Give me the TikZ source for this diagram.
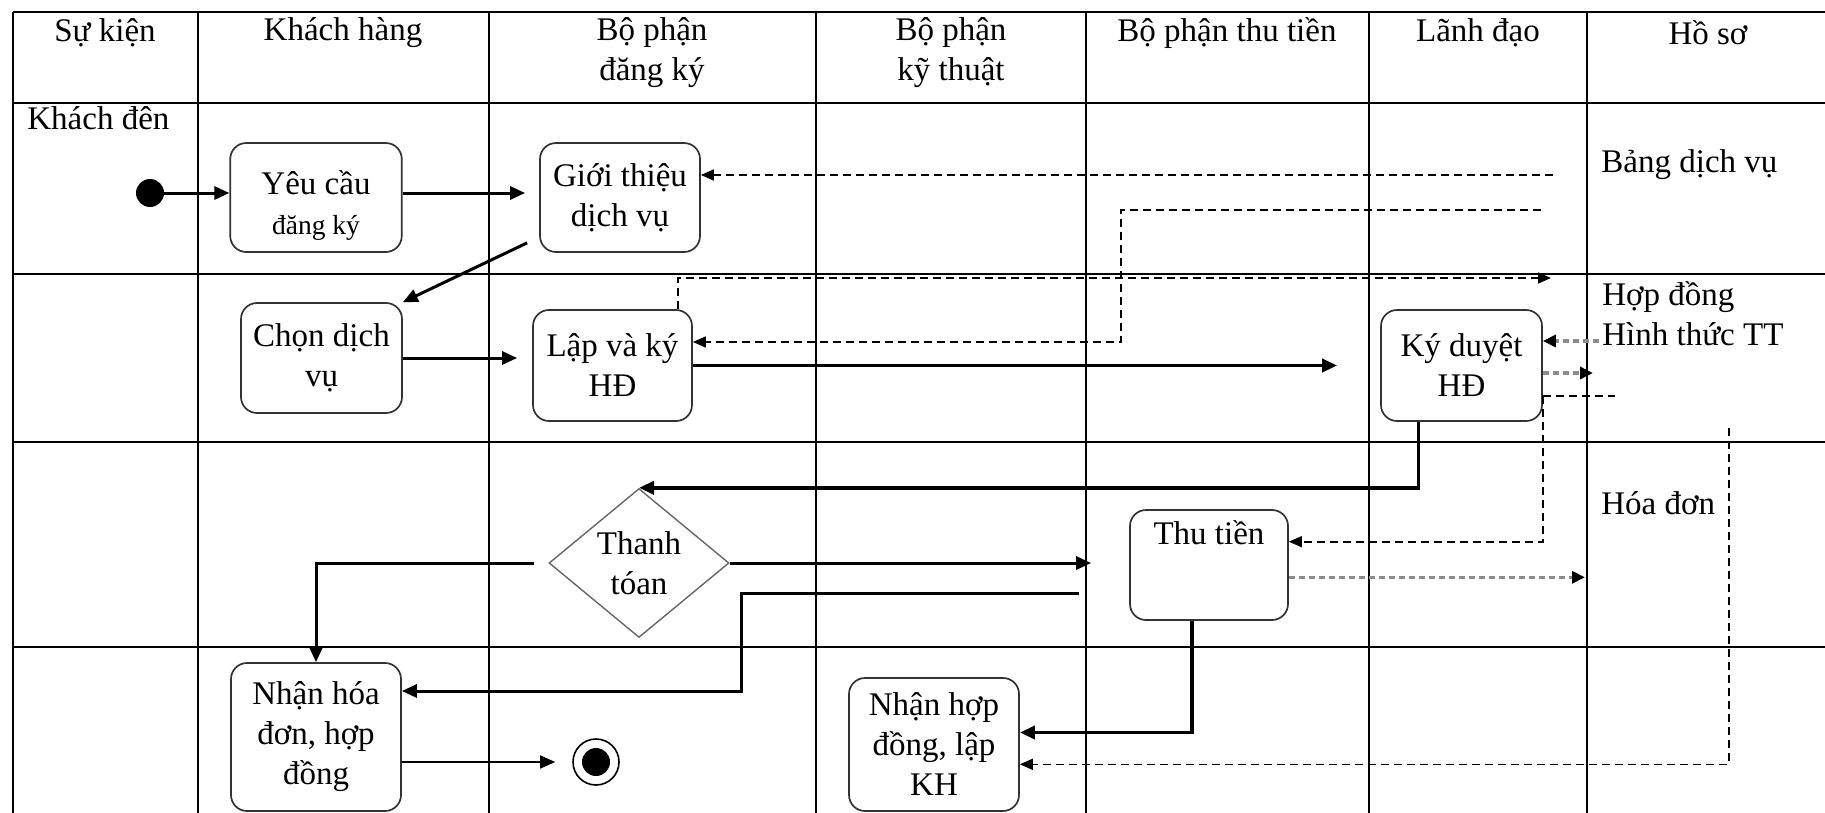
\documentclass[tikz,border=0pt]{standalone}
\usepackage{fontspec}
\setmainfont{Liberation Serif}
\usetikzlibrary{arrows.meta,shapes.geometric}
\begin{document}
\begin{tikzpicture}[x=0.5pt,y=-0.5pt,
  font=\fontsize{16.5}{20}\selectfont,
  grid/.style={line width=0.85pt},
  box/.style={draw=black!80, fill=white, line width=0.85pt, rounded corners=8pt, align=center, inner sep=2pt},
  tip/.style={-{Triangle[length=7.5pt,width=6.5pt]}},
  marr/.style={tip, line width=1.5pt},
  tarr/.style={tip, line width=1.8pt},
  thinarr/.style={tip, line width=0.75pt},
  dsh/.style={line width=0.8pt, dash pattern=on 4pt off 2.5pt, -{Triangle[length=6.5pt,width=5.5pt]}},
  dshline/.style={line width=0.8pt, dash pattern=on 4pt off 2.5pt},
  gdsh/.style={draw=black!45, line width=1.6pt, dash pattern=on 3pt off 2pt, -{Triangle[length=6.5pt,width=6pt,color=black]}},
  lbl/.style={anchor=west, inner sep=0pt}
]
\useasboundingbox (0,0) rectangle (1825,813);
% grid
\draw[grid] (13,12.3) -- (1825,12.3);
\foreach \yy in {103,274,442,647} \draw[grid] (13,\yy) -- (1825,\yy);
\foreach \xx in {13,197.7,489,816,1086,1369,1587} \draw[grid] (\xx,12.3) -- (\xx,813);
% headers
\node (h1) at (105,33) {Sự kiện};
\node (h2) at (343,33) {Khách hàng};
\node[align=center] (h3) at (652,53) {Bộ phận\\đăng ký};
\node[align=center] (h4) at (951,53) {Bộ phận\\kỹ thuật};
\node (h5) at (1227,33) {Bộ phận thu tiền};
\node (h6) at (1478,33) {Lãnh đạo};
\node (h7) at (1708,33) {Hồ sơ};
% side labels
\node[lbl] (ev) at (27,118) {Khách đên};
\node[lbl] (bdv) at (1601,165) {Bảng dịch vụ};
\node[lbl] (hd) at (1602,297) {Hợp đồng};
\node[lbl] (httt) at (1602,334) {Hình thức TT};
\node[lbl] (hdon) at (1601,503) {Hóa đơn};
% nodes
\node[circle, fill=black, minimum size=14pt, inner sep=0pt] (init) at (150,193) {};
\node[box, minimum width=85.75pt, minimum height=54.5pt] (yeucau) at (316,197.5) {\rule{0pt}{19.5pt}Yêu cầu\\{\fontsize{13.75}{18}\selectfont đăng ký}};
\node[box, minimum width=80pt, minimum height=54.5pt] (gioithieu) at (620,197.5) {Giới thiệu\\dịch vụ};
\node[box, minimum width=80.5pt, minimum height=55pt] (chon) at (321.5,358) {Chọn dịch\\vụ};
\node[box, minimum width=79.5pt, minimum height=55.5pt] (lap) at (612.5,365.5) {Lập và ký\\HĐ};
\node[box, minimum width=80.5pt, minimum height=55.5pt] (kyduyet) at (1461.5,365.5) {Ký duyệt\\HĐ};
\node[box, minimum width=79pt, inner ysep=3pt, text height=14.3pt, text depth=34.7pt] (thutien) at (1209,565) {Thu tiền};
\node[diamond, draw=black!60, line width=0.7pt, fill=white, minimum width=90pt, minimum height=74.5pt, inner sep=0pt, align=center] (dia) at (639,563) {Thanh\\tóan};
\node[box, minimum width=85pt, minimum height=74pt] (nhanhoa) at (316,737) {Nhận hóa\\đơn, hợp\\đồng};
\node[box, minimum width=85pt, minimum height=66.5pt] (nhanhop) at (934,744.5) {Nhận hợp\\đồng, lập\\KH};
\node[circle, draw=black, line width=0.8pt, minimum size=23pt, inner sep=0pt,
  path picture={\fill[black] (path picture bounding box.center) circle (7pt);}] (fin) at (596,762) {};
% solid connectors
\draw[marr] (init) -- (init -| yeucau.west);
\draw[marr, shorten >=7pt] (yeucau.east |- init) -- (gioithieu.west |- init);
\draw[marr] ([shift={(-12,-10)}]gioithieu.south west) -- (chon.north east);
\draw[marr, shorten >=7.5pt] (chon.east) -- (chon.east -| lap.west);
\draw[tarr, shorten >=21.5pt] (lap.east) -- (kyduyet.west);
\draw[tarr] ([shift={(-43,0)}]kyduyet.south) |- (dia.north);
\draw[marr, shorten <=7pt] (dia.west) -| (nhanhoa.north);
\draw[marr, shorten >=19pt] (dia.east) -- (dia.east -| thutien.west);
\coordinate (p1) at (741,691);
\draw[marr] ([shift={(-50,28)}]thutien.west) -| (p1) -- (p1 -| nhanhoa.east);
\draw[tarr] ([shift={(-17,0)}]thutien.south) |- ([shift={(0,-12)}]nhanhop.east);
\draw[thinarr, shorten >=8.5pt] (nhanhoa.east |- fin) -- (fin.west);
% dashed connectors
\coordinate (d1) at (1553,175);
\draw[dsh] (d1) -- (d1 -| gioithieu.east);
\coordinate (d2) at (1541,210);
\coordinate (d2b) at (1121,342);
\draw[dsh] (d2) -| (d2b) -- (d2b -| lap.east);
\coordinate (d3) at (1551,278);
\draw[dsh] ([shift={(65.5,0)}]lap.north) |- (d3);
\coordinate (d4) at (1599,341);
\draw[gdsh] (d4) -- (d4 -| kyduyet.east);
\coordinate (d5) at (1593,373);
\draw[gdsh] (d5 -| kyduyet.east) -- (d5);
\coordinate (d6) at (1614.5,396);
\draw[dshline] (d6 -| kyduyet.east) -- (d6);
\coordinate (d7) at (1300,541.7);
\draw[dsh] (d6 -| kyduyet.east) |- (d7 -| thutien.east);
\coordinate (d8) at (1585,577.3);
\draw[gdsh] (d8 -| thutien.east) -- (d8);
\coordinate (d9) at (1729,428.3);
\coordinate (d10) at (1729,764.3);
\draw[dsh] (d9) -- (d10) -- (d10 -| nhanhop.east);
\end{tikzpicture}
\end{document}
